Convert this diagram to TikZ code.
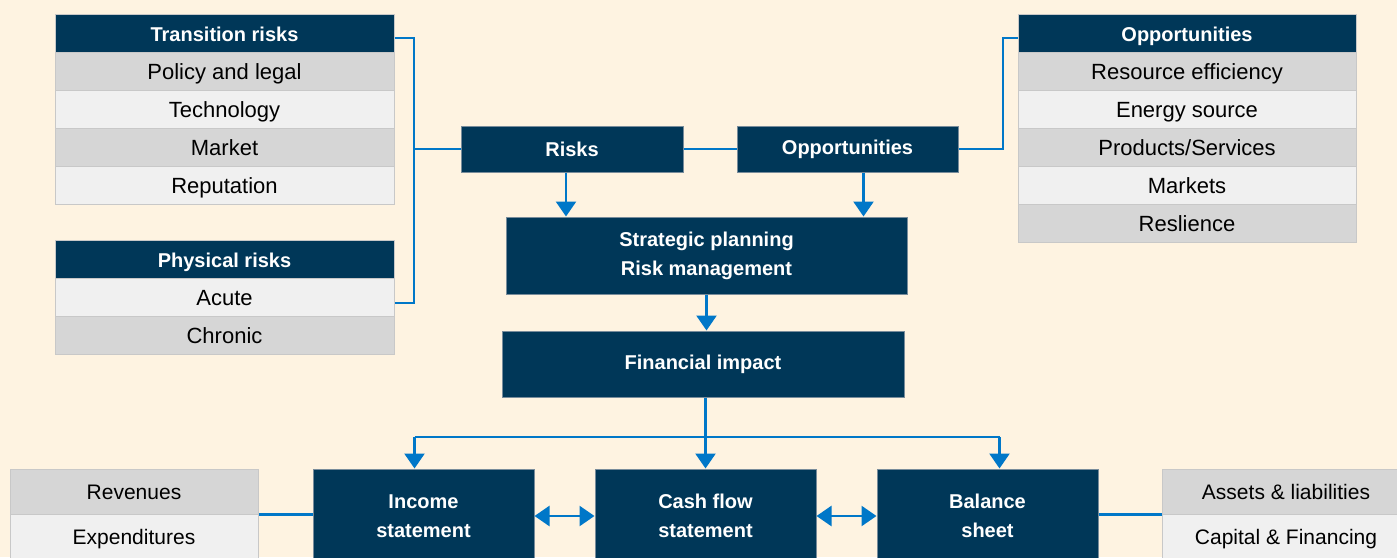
\documentclass[tikz,border=0pt]{standalone}
\usepackage{fontspec}
\setmainfont{Liberation Sans}
\usetikzlibrary{arrows.meta}
\definecolor{navy}{RGB}{0,55,88}
\definecolor{linkblue}{RGB}{0,119,200}
\definecolor{cream}{RGB}{254,243,225}
\definecolor{celldark}{RGB}{214,214,214}
\definecolor{celllight}{RGB}{240,240,240}
\definecolor{cellline}{RGB}{200,200,200}
\definecolor{boxline}{RGB}{120,140,155}
\tikzset{
  cell/.style={draw=cellline, line width=1pt, inner sep=0pt, minimum height=38pt, text height=18pt, text depth=2pt, font=\fontsize{22}{26}\selectfont},
  head/.style={cell, fill=navy, text=white, font=\bfseries\fontsize{20}{24}\selectfont},
  dark/.style={cell, fill=celldark},
  light/.style={cell, fill=celllight},
  box/.style={draw=boxline, line width=1pt, fill=navy, text=white, inner sep=0pt, align=center, font=\bfseries\fontsize{20}{29}\selectfont},
  link/.style={draw=linkblue, line width=2.5pt},
  arrow/.style={link, -{Triangle[width=20pt,length=15pt]}},
  darrow/.style={link, {Triangle[width=20pt,length=15pt]}-{Triangle[width=20pt,length=15pt]}},
}
\begin{document}
\begin{tikzpicture}[x=1pt, y=-1pt]
      \fill[cream] (0,0) rectangle (1397,557);
      \useasboundingbox (0,0) rectangle (1397,557);
      \clip (0,0) rectangle (1397,557);
      % risk tables
      \draw[every node/.append style={minimum width=339pt}]
        (224.5,33) node[head] (th){Transition risks}
        (224.5,71) node[dark] (pol){Policy and legal}
        (224.5,109) node[light] (tec){Technology}
        (224.5,147) node[dark] (mkt){Market}
        (224.5,185) node[light] (rep){Reputation}
        (224.5,259) node[head] (ph){Physical risks}
        (224.5,297) node[light] (acu){Acute}
        (224.5,335) node[dark] (chr){Chronic};
      % opportunity table
      \draw[every node/.append style={minimum width=338pt}]
        (1187,33) node[head] (oh){Opportunities}
        (1187,71) node[dark] (res){Resource efficiency}
        (1187,109) node[light] (ene){Energy source}
        (1187,147) node[dark] (pro){Products/Services}
        (1187,185) node[light] (mar){Markets}
        (1187,223) node[dark] (rsl){Reslience};
      % middle boxes
      \draw
        (572,149) node[box, minimum width=222pt, minimum height=46pt] (risks){Risks}
        (847.5,149) node[box, minimum width=221pt, minimum height=46pt] (opp){Opportunities}
        (706.5,255.5) node[box, minimum width=401pt, minimum height=77pt] (strat){Strategic planning\\Risk management}
        (703,364) node[box, minimum width=402pt, minimum height=66pt] (fin){Financial impact}
        (423.5,516) node[box, minimum width=221pt, minimum height=94pt] (inc){Income\\statement}
        (705.5,516) node[box, minimum width=221pt, minimum height=94pt] (cash){Cash flow\\statement}
        (987.5,516) node[box, minimum width=221pt, minimum height=94pt] (bal){Balance\\sheet};
      % statement tables
      \draw[every node/.append style={minimum width=248pt}]
        (134,491.5) node[dark, minimum height=45pt, font=\fontsize{21}{25}\selectfont] (rev){Revenues}
        (134,536.5) node[light, minimum height=45pt, font=\fontsize{21}{25}\selectfont] (exp){Expenditures}
        (1286,491.5) node[dark, minimum height=45pt, font=\fontsize{21}{25}\selectfont] (ast){Assets \& liabilities}
        (1286,536.5) node[light, minimum height=45pt, font=\fontsize{21}{25}\selectfont] (cap){Capital \& Financing};
      \coordinate (j) at (414,149);
      \coordinate (k) at (1003,38);
      \coordinate (bus) at (706,437);
      \begin{scope}[link]
        \draw ([yshift=-5pt]th.east) -| (j) |- ([yshift=-6pt]acu.east);
        \draw (j) -- (risks.west);
        \draw (risks) -- (opp);
        \draw (opp.east) -| (k) -- ([yshift=-5pt]oh.west);
        \draw ([xshift=-9pt]inc.north |- bus) -- ([xshift=12pt]bal.north |- bus);
        \draw (inc.west |- rev.south) -- (rev.south east);
        \draw (bal.east |- ast.south) -- (ast.south west);
      \end{scope}
      \begin{scope}[arrow]
        \draw ([xshift=-6pt]risks.south) -- ([xshift=-6pt]risks.south |- strat.north);
        \draw ([xshift=16pt]opp.south) -- ([xshift=16pt]opp.south |- strat.north);
        \draw (strat.south) -- (strat.south |- fin.north);
        \draw (cash.north |- fin.south) -- (cash.north);
        \draw ([xshift=-9pt]inc.north |- bus) -- ([xshift=-9pt]inc.north);
        \draw ([xshift=12pt]bal.north |- bus) -- ([xshift=12pt]bal.north);
      \end{scope}
      \draw[darrow] (inc.east) -- (cash.west);
      \draw[darrow] (cash.east) -- (bal.west);
    \end{tikzpicture}
\end{document}
